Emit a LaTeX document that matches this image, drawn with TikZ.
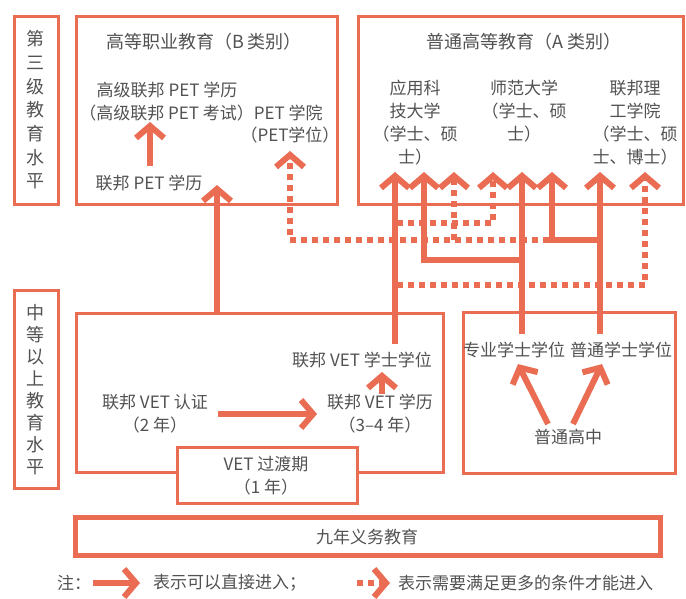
\documentclass[tikz,border=0pt]{standalone}
\usepackage{fontspec}
\setmainfont{Noto Sans CJK SC}
\usetikzlibrary{arrows.meta}
\definecolor{org}{RGB}{234,108,82}
\definecolor{txt}{RGB}{82,82,82}
\begin{document}
\begin{tikzpicture}[x=1pt,y=-1pt,
  box/.style={draw=org, line width=3pt, inner sep=0pt},
  lbl/.style={text=txt, font=\fontsize{17}{23}\selectfont, inner sep=0pt, align=center},
  ttl/.style={lbl, font=\fontsize{18}{23}\selectfont},
  tipstyle/.style={-{Straight Barb[length=12pt,width=28pt]}},
  sol/.style={draw=org, line width=6pt, tipstyle},
  link/.style={draw=org, line width=6pt},
  dotl/.style={draw=org, line width=6pt, dash pattern=on 6pt off 5pt},
  dotarr/.style={dotl, tipstyle},
]
\useasboundingbox[fill=white] (0,0) rectangle (686,599);

% boxes
\node[box, minimum width=44pt, minimum height=188pt] (L1box) at (36,111) {};
\node[box, minimum width=261pt, minimum height=188pt] (Bbox) at (206.5,111) {};
\node[box, minimum width=325pt, minimum height=188pt] (Abox) at (520.5,111) {};
\node[box, minimum width=44pt, minimum height=198pt] (L2box) at (36,389) {};
\node[box, minimum width=367pt, minimum height=159pt] (VETbox) at (259.5,392.5) {};
\node[box, fill=white, minimum width=180pt, minimum height=56pt] (Tbox) at (267,475) {};
\node[box, minimum width=212pt, minimum height=161pt] (Rbox) at (569,392.5) {};
\node[box, line width=5pt, minimum width=585pt, minimum height=38pt] (Nbox) at (367.5,536) {};

% level labels
\node[lbl, font=\fontsize{18}{23.7}\selectfont] (L1) at (36,110) {第\\三\\级\\教\\育\\水\\平};
\node[lbl, font=\fontsize{18}{22}\selectfont] (L2) at (36,390) {中\\等\\以\\上\\教\\育\\水\\平};

% B box texts
\node[ttl] (Btitle) at (204,42) {高等职业教育（B 类别）};
\node[lbl] (advPET) at (167,90) {高级联邦 PET 学历};
\node[lbl] (advExam) at (201,113) {（高级联邦 PET 考试）PET 学院};
\node[lbl] (PETdeg) at (290,135) {（PET学位）};
\node[lbl] (fedPET) at (149,183) {联邦 PET 学历};

% A box texts
\node[ttl] (Atitle) at (524,42) {普通高等教育（A 类别）};
\node[lbl] (col1) at (415,122.5) {应用科\\技大学\\（学士、硕\\士）};
\node[lbl] (col2) at (524,111.5) {师范大学\\（学士、硕\\士）};
\node[lbl] (col3) at (635,122.5) {联邦理\\工学院\\（学士、硕\\士、博士）};

% VET box texts
\node[lbl] (vetBach) at (362,360) {联邦 VET 学士学位};
\node[lbl] (vetDip) at (380,414) {联邦 VET 学历\\（3–4 年）};
\node[lbl] (vetCert) at (155,414) {联邦 VET 认证\\（2 年）};
\node[lbl] (trans) at (266,475.5) {VET 过渡期\\（1 年）};

% right box texts
\node[lbl] (prof) at (514,350) {专业学士学位};
\node[lbl] (gen) at (621,350) {普通学士学位};
\node[lbl] (hs) at (568,437) {普通高中};

% nine-year
\node[lbl] (nine) at (367,537) {九年义务教育};

% legend
\node[lbl, anchor=west] (note) at (57,583) {注：};
\node[lbl, anchor=west] (legA) at (153,583) {表示可以直接进入；};
\node[lbl, anchor=west] (legB) at (398,583) {表示需要满足更多的条件才能进入};

% coordinates for arrow tips
\coordinate (tA1) at (395,172);
\coordinate (tA2) at (424,172);
\coordinate (tA3) at (454,172);
\coordinate (tA4) at (493,172);
\coordinate (tA5) at (522,172);
\coordinate (tA6) at (552,172);
\coordinate (tA7) at (600,172);
\coordinate (tA8) at (645,172);
\coordinate (tPET) at (217,185);
\coordinate (tPETc) at (290,151);
\coordinate (tAdv) at (150,122);
\coordinate (tVB) at (382,372);
\coordinate (j1) at (522,260);
\coordinate (j2) at (600,240);
\coordinate (j3) at (549,240);
\coordinate (j4) at (454,240);
\coordinate (j5) at (397,223);
\coordinate (j6) at (397,285);

% dotted connectors
\draw[dotarr] (j3) -| (tPETc);
\draw[dotarr] (j4) -- (tA3);
\draw[dotarr] (j5) -| (tA4);
\draw[dotarr] (j6) -| (tA8);

% solid connectors
\draw[sol, shorten <=8pt] (tA1 |- vetBach.north) -- (tA1);
\draw[sol, shorten <=8pt] (tA5 |- prof.north) -- (tA5);
\draw[sol] (j1) -| (tA2);
\draw[sol, shorten <=8pt] (tA7 |- gen.north) -- (tA7);
\draw[sol] (j2) -| (tA6);
\draw[sol] (tPET |- VETbox.north) -- (tPET);
\draw[sol] (fedPET.north -| tAdv) ++(0,-9) -- (tAdv);
\draw[sol] ([xshift=10pt]vetCert.east) -- ([xshift=-10pt]vetDip.west);
\draw[sol] (vetDip.north -| tVB) -- (tVB);
\draw[sol] ([xshift=-20pt,yshift=5pt]hs.north) -- ([xshift=4pt,yshift=-6pt]prof.south);
\draw[sol] ([xshift=5pt,yshift=5pt]hs.north) -- ([xshift=-19pt,yshift=-6pt]gen.south);

% legend arrows
\coordinate (la1) at (93,583);
\coordinate (la2) at (140,583);
\coordinate (lb1) at (357,583);
\coordinate (lb2) at (390,583);
\draw[sol] (la1) -- (la2);
\draw[dotarr] (lb1) -- (lb2);
\end{tikzpicture}
\end{document}
